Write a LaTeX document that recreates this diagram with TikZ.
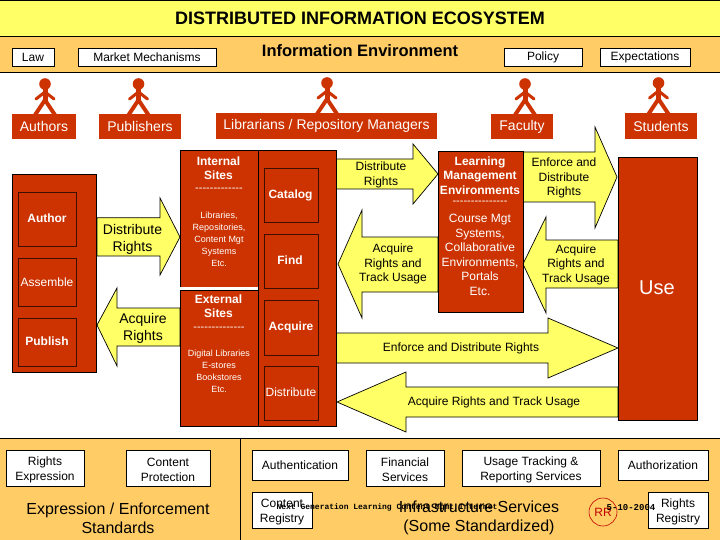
\documentclass[tikz,border=0pt]{standalone}
\usepackage{fontspec}
\setmainfont{Liberation Sans}
\setmonofont{Liberation Mono}
\definecolor{brick}{HTML}{CC3300}
\definecolor{sunny}{HTML}{FFFF66}
\definecolor{sand}{HTML}{FFCC66}
\newcommand{\fs}[2]{\fontsize{#1}{#2}\selectfont}
\newcommand{\tup}{\rule{0pt}{12pt}}
\newcommand{\person}[2]{%
  \fill[brick] (#1,#2) circle[radius=5.8pt];
  \draw[brick,line width=5pt] (#1,#2+4) -- (#1,#2+18);
  \draw[brick,line width=3pt,line cap=round] (#1-9,#2+15) -- (#1,#2+8) -- (#1+9,#2+15);
  \draw[brick,line width=4pt] (#1-10,#2+31) -- (#1,#2+16) -- (#1+10,#2+31);
}
\tikzset{
  x=1pt,y=-1pt,
  band/.style={draw=black,line width=0.8pt},
  arrowshape/.style={draw=black,fill=sunny,line width=0.7pt,line join=miter},
  redblock/.style={draw=black,fill=brick,line width=0.8pt},
  innerblock/.style={draw=black!70!brick,fill=brick,line width=0.8pt},
  whitebox/.style={draw=black,fill=white,line width=0.8pt,inner sep=0pt,align=center,font=\fs{12}{15.2}},
  role/.style={fill=brick,text=white,inner sep=0pt,font=\fs{14}{16}},
  lab/.style={inner sep=0pt,align=center,font=\fs{12}{14.5}},
  labw/.style={lab,text=white},
  boldw/.style={inner sep=0pt,align=center,text=white,font=\fs{12}{14.5}\bfseries},
  small/.style={inner sep=0pt,align=center,text=white,font=\fs{9}{12}},
  dashrow/.style={inner sep=0pt,text=white,font=\fs{11}{12}},
}
\begin{document}
\begin{tikzpicture}
\useasboundingbox (0,0) rectangle (720,540);
\fill[white] (0,0) rectangle (720,540);
% bands
\draw[band,fill=sunny] (-1,0.5) rectangle (721,36);
\draw[band,fill=sand] (-1,36) rectangle (721,72);
\draw[band,fill=sand] (-1,438) rectangle (721,541);
\draw[band] (240.5,438) -- (240.5,541);
\node[inner sep=0pt,font=\fs{18}{20}\bfseries] (title) at (360,18.5) {DISTRIBUTED INFORMATION ECOSYSTEM};
\node[inner sep=0pt,font=\fs{16.5}{18}\bfseries] (infoenv) at (360,51) {Information Environment};
% top boxes
\node[whitebox,minimum width=42pt,minimum height=18pt] (law) at (33,57) {Law};
\node[whitebox,minimum width=138pt,minimum height=18pt] (market) at (147,57) {Market Mechanisms};
\node[whitebox,minimum width=78pt,minimum height=18pt] (policy) at (543,57) {Policy};
\node[whitebox,minimum width=90pt,minimum height=18pt] (expect) at (645,57) {Expectations};
% people
\person{45}{84}
\person{138.5}{84}
\person{327}{83}
\person{525}{84}
\person{658.5}{83}
\node[role,minimum width=64pt,minimum height=25pt] (authors) at (44,126.5) {Authors};
\node[role,minimum width=82pt,minimum height=25pt] (publishers) at (140,126.5) {Publishers};
\node[role,minimum width=221pt,minimum height=26pt] (librarians) at (326.5,126) {Librarians / Repository Managers};
\node[role,minimum width=62pt,minimum height=25pt] (faculty) at (522,126.5) {Faculty};
\node[role,minimum width=72pt,minimum height=26pt] (students) at (661,126) {Students};
% arrows
\draw[arrowshape] (97,217.7) -- (160,217.7) -- (160,198) -- (180,237) -- (160,275) -- (160,256) -- (97,256) -- cycle;
\draw[arrowshape] (180,308) -- (117,308) -- (117,288) -- (97,325) -- (117,366) -- (117,346) -- (180,346) -- cycle;
\draw[arrowshape] (336,159) -- (413,159) -- (413,144) -- (438,174) -- (413,204) -- (413,189) -- (336,189) -- cycle;
\draw[arrowshape] (438,237) -- (362,237) -- (362,210) -- (338,264) -- (362,318) -- (362,292) -- (438,292) -- cycle;
\draw[arrowshape] (523,152) -- (595,152) -- (595,127) -- (617,177) -- (595,228) -- (595,202) -- (523,202) -- cycle;
\draw[arrowshape] (618,240) -- (546,240) -- (546,217) -- (523,264) -- (546,313) -- (546,288) -- (618,288) -- cycle;
\draw[arrowshape] (336,333) -- (548,333) -- (548,318) -- (618,348) -- (548,378) -- (548,363) -- (336,363) -- cycle;
\draw[arrowshape] (618,387) -- (406,387) -- (406,372) -- (337,402) -- (406,432) -- (406,417) -- (618,417) -- cycle;
% red blocks
\draw[redblock] (12.5,174) rectangle (96.5,372.5);
\draw[innerblock] (18.5,192) rectangle (76.5,246);
\draw[innerblock] (18.5,258) rectangle (76.5,306.5);
\draw[innerblock] (18.5,318) rectangle (76.5,366);
\draw[redblock] (180.5,150) rectangle (258,287);
\fill[white] (180,287) rectangle (258,290);
\draw[redblock] (180.5,290) rectangle (258,426);
\draw[redblock] (258,150) rectangle (336.5,426);
\draw[innerblock] (264.5,168) rectangle (318.5,222);
\draw[innerblock] (264.5,234) rectangle (318.5,288);
\draw[innerblock] (264.5,300) rectangle (318.5,355);
\draw[innerblock] (264.5,366) rectangle (318.5,420);
\draw[redblock] (438.5,151) rectangle (523,312.5);
\draw[redblock] (618,157) rectangle (697,420);
% block labels
\node[boldw] (author) at (47,218) {Author};
\node[labw] (assemble) at (47,282) {Assemble};
\node[boldw] (publish) at (47,341.5) {Publish};
\node[boldw] (internal) at (218.5,168) {Internal\\Sites};
\node[dashrow] (dash1) at (219,190) {-{}-{}-{}-{}-{}-{}-{}-{}-{}-{}-{}-{}-{}};
\node[small] (libs) at (219,239.5) {Libraries,\\Repositories,\\Content Mgt\\Systems\\Etc.};
\node[boldw] (external) at (218.5,306) {External\\Sites};
\node[dashrow] (dash2) at (219,329) {-{}-{}-{}-{}-{}-{}-{}-{}-{}-{}-{}-{}-{}-{}};
\node[small] (digital) at (219,371) {Digital Libraries\\E-stores\\Bookstores\\Etc.};
\node[boldw] (catalog) at (290.5,195) {Catalog};
\node[boldw] (find) at (290,260.5) {Find};
\node[boldw] (acquire) at (291,327) {Acquire};
\node[labw] (distribute) at (291,392.5) {Distribute};
\node[boldw] (lme) at (480,175.5) {Learning\\Management\\Environments};
\node[dashrow] (dash3) at (480,203) {-{}-{}-{}-{}-{}-{}-{}-{}-{}-{}-{}-{}-{}-{}-{}};
\node[labw] (course) at (480,255) {Course Mgt\\Systems,\\Collaborative\\Environments,\\Portals\\Etc.};
\node[labw,font=\fs{20}{22}] (use) at (657,288) {Use};
% arrow labels
\node[lab,font=\fs{14}{17}] (dr1) at (132.5,239) {Distribute\\Rights};
\node[lab,font=\fs{14}{17}] (ar1) at (143,328.5) {Acquire\\Rights};
\node[lab] (dr2) at (381,175) {Distribute\\Rights};
\node[lab] (ar2) at (393,264) {Acquire\\Rights and\\Track Usage};
\node[lab] (ed1) at (564,178) {Enforce and\\Distribute\\Rights};
\node[lab] (ar3) at (576,264.5) {Acquire\\Rights and\\Track Usage};
\node[lab] (ed2) at (461,348) {Enforce and Distribute Rights};
\node[lab] (ar4) at (494,402) {Acquire Rights and Track Usage};
% bottom boxes
\node[whitebox,minimum width=78pt,minimum height=36pt] (rex) at (45,468) {\tup Rights\\Expression};
\node[whitebox,minimum width=84pt,minimum height=36pt] (cp) at (168,468) {\tup Content\\Protection};
\node[whitebox,minimum width=96pt,minimum height=30pt] (auth) at (300,465) {Authentication};
\node[whitebox,minimum width=60pt,minimum height=36pt] (creg) at (282,510) {\tup Content\\Registry};
\node[whitebox,minimum width=78pt,minimum height=36pt] (fin) at (405,468) {\tup Financial\\Services};
\node[whitebox,minimum width=138pt,minimum height=36pt] (usage) at (531,468) {\tup Usage Tracking \&\\Reporting Services};
\node[whitebox,minimum width=90pt,minimum height=30pt] (authz) at (663,465) {Authorization};
\node[whitebox,minimum width=60pt,minimum height=36pt] (rreg) at (678,510) {\tup Rights\\Registry};
\node[lab,font=\fs{16}{19}] (std) at (118,518) {Expression / Enforcement\\Standards};
\node[lab,font=\fs{16}{19}] (infra) at (479,518) {Infrastructure Services\\(Some Standardized)};
\node[inner sep=0pt,font=\fs{8}{9}\ttfamily\bfseries] (footer) at (387,507.5) {Next Generation Learning Content Mgmt Internet};
\node[draw=red!75!black,circle,minimum size=28pt,inner sep=0pt,text=red!75!black,font=\fs{12}{14},line width=0.6pt] (rr) at (603,512) {RR};
\node[inner sep=0pt,font=\fs{9}{10}\ttfamily\bfseries] (date) at (631,507.5) {5-10-2004};
\end{tikzpicture}
\end{document}
